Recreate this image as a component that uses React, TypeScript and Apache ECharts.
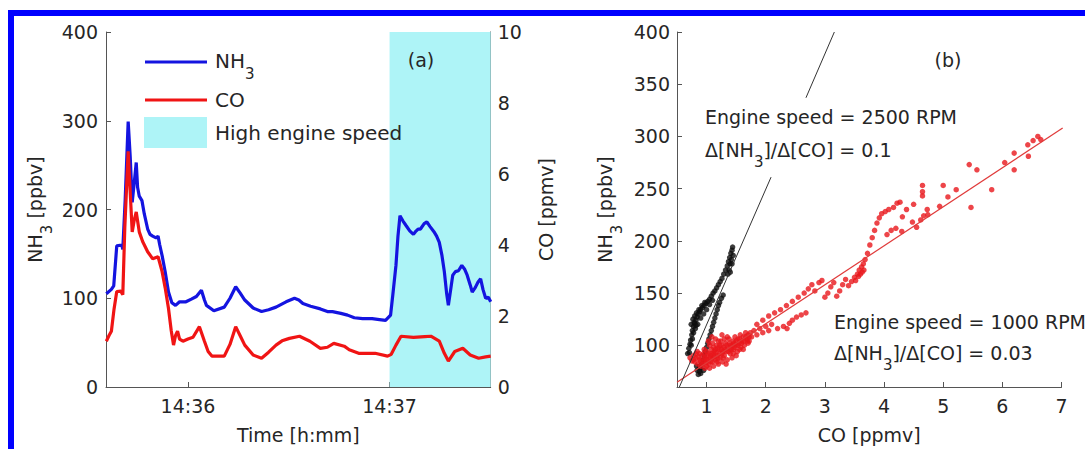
import React, { useEffect, useRef } from 'react';
import * as echarts from 'echarts';

// ---------- Panel (a): time series (seconds after 14:35:00) ----------
const nh3Time = [35.7, 37.2, 37.9, 38.8, 40.3, 40.6, 41.3, 42.2, 42.8, 43.4, 44.0, 44.6, 45.0, 45.5, 46.3, 47.0, 48.0, 48.7, 49.5, 50.5, 51.1, 51.6, 52.3, 53.2, 54.2, 55.2, 56.3, 57.5, 59.4, 61.0, 62.5, 64.0, 64.9, 65.5, 67.7, 70.8, 72.5, 74.2, 75.5, 76.9, 79.4, 81.9, 84.0, 86.2, 89.2, 91.7, 93.0, 94.2, 96.5, 99.4, 101.5, 103.0, 105.5, 107.5, 109.5, 112.0, 114.8, 117.0, 118.8, 120.3, 121.0, 121.9, 122.5, 123.1, 124.0, 124.9, 126.0, 127.1, 127.7, 128.5, 129.2, 130.3, 131.1, 132.0, 133.2, 134.0, 134.8, 135.6, 136.3, 137.0, 137.5, 138.2, 138.8, 139.6, 140.5, 141.5, 142.3, 143.1, 144.0, 144.6, 145.5, 146.3, 147.1, 147.8, 148.6, 149.4, 150.1];
const nh3Values = [105, 110, 114, 159, 160, 155, 210, 299, 260, 208, 230, 253, 225, 215, 210, 195, 178, 172, 170, 168, 170, 160, 148, 130, 107, 95, 92, 96, 96, 99, 102, 109, 98, 92, 86, 90, 100, 113, 106, 98, 89, 85, 87, 90, 96, 100, 98, 94, 91, 88, 85, 85, 83, 81, 78, 77, 77, 76, 75, 81, 105, 137, 170, 193, 187, 182, 176, 172, 175, 178, 178, 184, 186, 181, 175, 170, 163, 148, 130, 105, 92, 110, 126, 130, 131, 137, 133, 126, 115, 107, 112, 118, 122, 110, 100, 101, 96];
const coTime = [35.7, 36.5, 37.2, 38.0, 38.8, 40.0, 40.6, 41.2, 42.2, 42.8, 43.4, 44.0, 44.6, 45.5, 46.5, 48.0, 49.5, 51.1, 52.3, 53.2, 54.2, 55.0, 55.7, 56.3, 56.9, 57.5, 58.5, 60.0, 61.5, 63.4, 64.9, 66.0, 67.1, 70.8, 72.5, 74.2, 75.5, 76.9, 79.4, 81.9, 84.0, 86.2, 88.0, 90.2, 93.2, 96.3, 99.4, 101.5, 103.4, 106.5, 108.0, 110.8, 115.7, 119.4, 120.5, 121.9, 123.4, 127.1, 130.5, 132.3, 134.8, 136.3, 137.5, 139.4, 141.8, 144.0, 146.5, 148.6, 150.1];
const coValues = [1.29, 1.45, 1.57, 2.2, 2.69, 2.7, 2.6, 4.5, 6.64, 5.5, 4.37, 4.7, 4.93, 4.37, 4.1, 3.81, 3.61, 3.67, 3.25, 2.8, 2.21, 1.6, 1.18, 1.45, 1.57, 1.35, 1.29, 1.35, 1.4, 1.7, 1.29, 1.0, 0.87, 0.87, 1.2, 1.7, 1.45, 1.18, 0.9, 0.81, 0.98, 1.18, 1.3, 1.37, 1.43, 1.29, 1.09, 1.12, 1.23, 1.15, 1.05, 0.95, 0.95, 0.87, 0.92, 1.18, 1.43, 1.4, 1.42, 1.43, 1.29, 0.95, 0.73, 1.0, 1.09, 0.9, 0.81, 0.85, 0.87];
const highSpeedRange = [120, 150.1];
const timeRange = [35.6, 150.1];
const timeTicks = [60, 120];
const timeTickLabels = ['14:36', '14:37'];

// ---------- Panel (b): scatter CO [ppmv] vs NH3 [ppbv] ----------
const black2500 = [
  [0.68, 92], [0.7, 97], [0.72, 101], [0.73, 105], [0.75, 110], [0.76, 114], [0.78, 118], [0.8, 121], [0.82, 124], [0.84, 127],
  [0.86, 130], [0.88, 132], [0.9, 134], [0.93, 136], [0.96, 138], [0.99, 140], [1.02, 142], [1.05, 144], [1.08, 147], [1.11, 150],
  [1.14, 152], [1.17, 155], [1.2, 158], [1.23, 161], [1.26, 164], [1.29, 168], [1.32, 172], [1.35, 176], [1.37, 180], [1.39, 184],
  [1.41, 188], [1.43, 191], [1.44, 194], [0.74, 120], [0.77, 125], [0.8, 128], [0.83, 131], [0.87, 134], [0.92, 138], [0.97, 141],
  [0.78, 112], [0.81, 116], [0.85, 120], [0.9, 126], [0.95, 130], [1.0, 134], [1.05, 139], [1.1, 143], [1.36, 168], [1.38, 172],
  [1.4, 178], [1.42, 182], [1.45, 186], [1.43, 178], [1.4, 170], [0.71, 93], [0.74, 100], [0.76, 106], [0.79, 122], [0.82, 119],
  [0.86, 72], [0.88, 75], [0.9, 78], [0.92, 82], [0.94, 86], [0.96, 90], [0.98, 94], [1.0, 98], [1.02, 102], [1.04, 106],
  [1.06, 110], [1.08, 114], [1.1, 118], [1.12, 122], [1.14, 126], [1.16, 130], [1.18, 134], [1.2, 138], [1.22, 141], [1.25, 145],
  [1.28, 148], [0.84, 76], [0.88, 80], [0.9, 73], [0.95, 76], [0.83, 80],
];
const red1000 = [
  [0.72, 88], [0.75, 85], [0.78, 90], [0.8, 84], [0.82, 88], [0.85, 82], [0.88, 86], [0.9, 80], [0.92, 90], [0.95, 84], [0.97, 78], [0.98, 88],
  [1.0, 80], [1.02, 86], [1.04, 92], [1.05, 78], [1.07, 84], [1.08, 96], [1.1, 88], [1.12, 80], [1.13, 94], [1.15, 86], [1.17, 100], [1.18, 90],
  [1.2, 82], [1.21, 96], [1.23, 88], [1.24, 104], [1.26, 92], [1.27, 84], [1.29, 98], [1.3, 90], [1.32, 102], [1.33, 94], [1.35, 86], [1.36, 98],
  [1.38, 106], [1.4, 92], [1.41, 100], [1.43, 88], [1.45, 104], [1.46, 96], [1.48, 108], [1.5, 100], [1.52, 94], [1.53, 106], [1.55, 102], [1.57, 110],
  [1.58, 98], [1.6, 104], [1.62, 108], [1.64, 100], [1.66, 112], [1.68, 106], [1.7, 110], [1.72, 104], [1.74, 112], [1.76, 108],
  [0.95, 92], [1.0, 94], [1.05, 100], [1.1, 102], [1.15, 96], [1.2, 104], [1.25, 100], [1.3, 106], [1.35, 108], [1.22, 92], [1.28, 88], [1.12, 92],
  [1.06, 88], [0.96, 96], [0.88, 92], [0.84, 94], [1.18, 84], [1.33, 82], [1.4, 96], [1.45, 92], [1.5, 90], [1.48, 98], [1.56, 96], [1.62, 96],
  [1.7, 102], [1.03, 104], [1.09, 108], [1.26, 110], [1.15, 106],
  [0.78, 86], [0.82, 92], [0.86, 89], [0.9, 85], [0.93, 82], [0.96, 87], [0.99, 83], [1.01, 90], [1.04, 82], [1.07, 90], [1.1, 84], [1.13, 89],
  [1.16, 93], [1.19, 87], [1.22, 100], [1.25, 96], [1.28, 94], [1.31, 96], [1.34, 100], [1.37, 94], [1.39, 102], [1.42, 96], [1.44, 100], [1.47, 102],
  [1.5, 104], [1.53, 100], [1.56, 106], [1.59, 102], [1.63, 104], [1.66, 108], [1.69, 104], [1.72, 108], [1.12, 98], [1.19, 97], [1.08, 92], [1.0, 86],
  [1.8, 114], [1.85, 110], [1.9, 116], [1.95, 112], [2.0, 118], [2.05, 114], [2.1, 120], [2.2, 116], [2.3, 118], [2.36, 116], [2.4, 121], [2.45, 124],
  [2.52, 127], [2.6, 129], [2.68, 131], [1.85, 120], [1.95, 124], [2.05, 128], [2.15, 131], [2.25, 134], [2.35, 138], [2.45, 142], [2.55, 146],
  [2.65, 150], [2.72, 154], [2.78, 158], [2.83, 152], [2.9, 160], [2.95, 162],
  [3.0, 146], [3.05, 150], [3.1, 156], [3.15, 160], [3.2, 147], [3.25, 152], [3.3, 158], [3.35, 163], [3.4, 157], [3.45, 161], [3.5, 165], [3.55, 168],
  [3.58, 172], [3.62, 175], [3.65, 178], [3.6, 168], [3.66, 172], [3.68, 182], [3.63, 170], [3.57, 166], [3.52, 162],
  [3.72, 188], [3.76, 196], [3.8, 203], [3.84, 210], [3.88, 217], [3.92, 222], [3.96, 226], [4.02, 228], [4.08, 230], [4.16, 232], [4.22, 236],
  [4.05, 206], [4.12, 210], [4.2, 212], [4.3, 209], [4.31, 223], [4.38, 230], [4.48, 218], [4.55, 213], [4.62, 220], [4.67, 224], [4.74, 225],
  [4.73, 230], [4.5, 235], [4.27, 237], [4.65, 243], [4.65, 247], [4.65, 253], [4.94, 233], [5.0, 253], [5.08, 242], [5.22, 249],
  [5.44, 273], [5.57, 268], [5.47, 232], [5.82, 249], [6.04, 275], [6.2, 284], [6.2, 268], [6.43, 292], [6.44, 281], [6.52, 296], [6.6, 300], [6.65, 297],
];
const fit1000 = [[0.5, 64.5], [7.02, 308]];
const fit2500Lower = [[0.54, 60], [2.09, 261]];
const fit2500Upper = [[2.68, 337], [3.16, 400]];
const coTicks = [1, 2, 3, 4, 5, 6, 7];
const nh3Ticks = [100, 150, 200, 250, 300, 350, 400];

// ---------- styles ----------
const FONT = 'DejaVu Sans';
const AXIS = '#555555';
const TEXT = '#262626';
const BLUE = '#1414e0';
const RED = '#f01414';
const CYAN = '#aef4f7';

const rich = (size: number) => ({
  n: { fontSize: size, fontFamily: FONT, color: TEXT, lineHeight: size * 2 + 1, verticalAlign: 'middle' },
  s: { fontSize: 15, fontFamily: FONT, color: TEXT, lineHeight: 15, verticalAlign: 'bottom' },
});

const axisBase = (extra: any = {}) => ({
  type: 'value',
  axisLine: { show: true, onZero: false, lineStyle: { color: AXIS, width: 1 } },
  axisTick: { show: true, inside: true, length: 5, lineStyle: { color: AXIS } },
  axisLabel: { color: TEXT, fontSize: 19, fontFamily: FONT, margin: 8 },
  splitLine: { show: false },
  nameLocation: 'middle',
  nameTextStyle: { color: TEXT, fontSize: 19, fontFamily: FONT, rich: rich(19) },
  ...extra,
});

const txt = (x: number, y: number, text: string, size = 19, align = 'left') => ({
  type: 'text',
  x,
  y,
  z: 100,
  silent: true,
  style: {
    text,
    fill: TEXT,
    fontSize: size,
    fontFamily: FONT,
    font: `${size}px "${FONT}"`,
    align,
    verticalAlign: 'middle',
    textAlign: align,
    textVerticalAlign: 'middle',
    rich: rich(size),
  },
});

export default function App() {
  const ref = useRef<HTMLDivElement>(null);

  useEffect(() => {
    if (!ref.current) return;
    const chart = echarts.init(ref.current, undefined, { renderer: 'svg' });
    const zip = (xs: number[], ys: number[]) => xs.map((x, i) => [x, ys[i]]);

    const option: any = {
      animation: false,
      backgroundColor: '#ffffff',
      textStyle: { fontFamily: FONT },
      grid: [
        { left: 106, top: 32, width: 384.7, height: 357 },
        { left: 677, top: 32, width: 384.5, height: 357 },
      ],
      xAxis: [
        axisBase({
          gridIndex: 0,
          min: timeRange[0],
          max: timeRange[1],
          name: 'Time [h:mm]',
          nameGap: 38,
          axisTick: { show: true, inside: true, length: 5, lineStyle: { color: AXIS }, customValues: timeTicks },
          axisLabel: {
            color: TEXT, fontSize: 19, fontFamily: FONT, margin: 9,
            customValues: timeTicks,
            formatter: (v: number) => timeTickLabels[timeTicks.indexOf(v)] ?? '',
          },
        }),
        axisBase({
          gridIndex: 1,
          min: 0.5,
          max: 7,
          name: 'CO [ppmv]',
          nameGap: 38,
          axisTick: { show: true, inside: true, length: 5, lineStyle: { color: AXIS }, customValues: coTicks },
          axisLabel: { color: TEXT, fontSize: 19, fontFamily: FONT, margin: 9, customValues: coTicks },
        }),
      ],
      yAxis: [
        axisBase({
          gridIndex: 0,
          min: 0,
          max: 400,
          interval: 100,
          name: '{n|NH}{s|3}{n| [ppbv]}',
          nameRotate: 90,
          nameGap: 52,
        }),
        axisBase({
          gridIndex: 0,
          position: 'right',
          min: 0,
          max: 10,
          interval: 2,
          name: 'CO [ppmv]',
          nameRotate: 90,
          nameGap: 46,
          axisLabel: { color: TEXT, fontSize: 19, fontFamily: FONT, margin: 7 },
        }),
        axisBase({
          gridIndex: 1,
          min: 60,
          max: 400,
          name: '{n|NH}{s|3}{n| [ppbv]}',
          nameRotate: 90,
          nameGap: 53,
          axisTick: { show: true, inside: true, length: 5, lineStyle: { color: AXIS }, customValues: nh3Ticks },
          axisLabel: { color: TEXT, fontSize: 19, fontFamily: FONT, margin: 7, customValues: nh3Ticks },
        }),
      ],
      series: [
        {
          type: 'line',
          xAxisIndex: 0,
          yAxisIndex: 0,
          data: [[highSpeedRange[0], 0], [highSpeedRange[1], 0]],
          symbol: 'none',
          lineStyle: { opacity: 0 },
          silent: true,
          z: 0,
          markArea: {
            silent: true,
            itemStyle: { color: CYAN, opacity: 1 },
            data: [[{ xAxis: highSpeedRange[0] }, { xAxis: highSpeedRange[1] }]],
          },
        },
        {
          type: 'line',
          xAxisIndex: 0,
          yAxisIndex: 0,
          data: zip(nh3Time, nh3Values),
          symbol: 'none',
          lineStyle: { color: BLUE, width: 3.2 },
          z: 3,
        },
        {
          type: 'line',
          xAxisIndex: 0,
          yAxisIndex: 1,
          data: zip(coTime, coValues),
          symbol: 'none',
          lineStyle: { color: RED, width: 3.2 },
          z: 4,
        },
        {
          type: 'scatter',
          xAxisIndex: 1,
          yAxisIndex: 2,
          data: black2500,
          symbol: 'circle',
          symbolSize: 5.5,
          itemStyle: { color: '#0d0d0d' },
          z: 3,
        },
        {
          type: 'scatter',
          xAxisIndex: 1,
          yAxisIndex: 2,
          data: red1000,
          symbol: 'circle',
          symbolSize: 5.5,
          itemStyle: { color: '#e8161c' },
          z: 4,
        },
        {
          type: 'line',
          xAxisIndex: 1,
          yAxisIndex: 2,
          data: fit1000,
          symbol: 'none',
          lineStyle: { color: '#e03a3a', width: 1.2 },
          z: 5,
        },
        {
          type: 'line',
          xAxisIndex: 1,
          yAxisIndex: 2,
          data: fit2500Lower,
          symbol: 'none',
          lineStyle: { color: '#333333', width: 1 },
          z: 5,
        },
        {
          type: 'line',
          xAxisIndex: 1,
          yAxisIndex: 2,
          data: fit2500Upper,
          symbol: 'none',
          lineStyle: { color: '#333333', width: 1 },
          z: 5,
        },
      ],
      graphic: [
        { type: 'rect', z: 100, shape: { x: 8, y: 10, width: 1077, height: 6 }, style: { fill: '#0000ff' }, silent: true },
        { type: 'rect', z: 100, shape: { x: 8, y: 10, width: 6, height: 439 }, style: { fill: '#0000ff' }, silent: true },
        // legend of panel (a)
        { type: 'line', z: 100, shape: { x1: 145, y1: 62, x2: 207, y2: 62 }, style: { stroke: BLUE, lineWidth: 3.2 }, silent: true },
        { type: 'line', z: 100, shape: { x1: 145, y1: 100, x2: 207, y2: 100 }, style: { stroke: RED, lineWidth: 3.2 }, silent: true },
        { type: 'rect', z: 100, shape: { x: 144, y: 117, width: 63, height: 31 }, style: { fill: CYAN }, silent: true },
        txt(215, 61, '{n|NH}{s|3}', 20),
        txt(215, 100, '{n|CO}', 20),
        txt(215, 133, '{n|High engine speed}', 20),
        txt(421, 60, '{n|(a)}', 19, 'center'),
        txt(948, 60, '{n|(b)}', 19, 'center'),
        txt(705, 117, '{n|Engine speed = 2500 RPM}', 19),
        txt(705, 150, '{n|Δ[NH}{s|3}{n|]/Δ[CO] = 0.1}', 19),
        txt(834, 322, '{n|Engine speed = 1000 RPM}', 19),
        txt(834, 353, '{n|Δ[NH}{s|3}{n|]/Δ[CO] = 0.03}', 19),
      ],
    };

    chart.setOption(option);
    return () => chart.dispose();
  }, []);

  return (
    <div
      ref={ref}
      style={{ position: 'fixed', left: 0, top: 0, width: 1085, height: 449, background: '#ffffff' }}
    />
  );
}
